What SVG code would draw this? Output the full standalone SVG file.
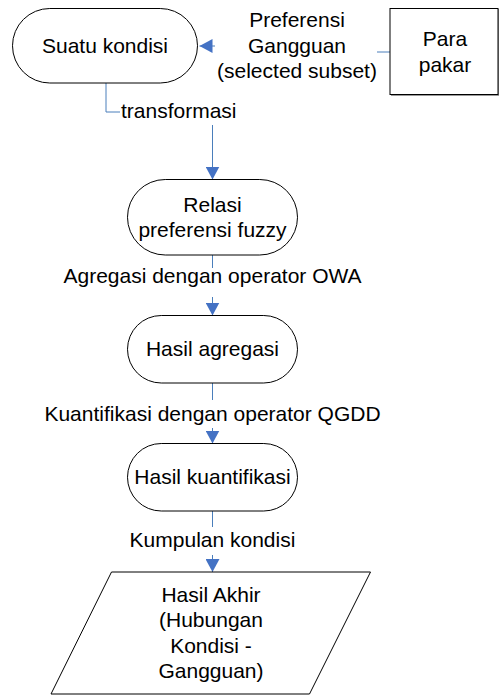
<svg xmlns="http://www.w3.org/2000/svg" width="499" height="696" viewBox="0 0 499 696">
<style>
text{font-family:"Liberation Sans",Arial,sans-serif;font-size:21px;fill:#000;text-anchor:middle}
.shape{fill:#fff;stroke:#000;stroke-width:1}
.conn{fill:none;stroke:#4a7ebb;stroke-width:1}
.lblbg{fill:#fff;stroke:none}
</style>
<defs>
<marker id="ah" markerUnits="userSpaceOnUse" markerWidth="14" markerHeight="14" refX="13" refY="7" orient="auto">
<path d="M0,0 L13,7 L0,14 z" fill="#4472c4"/>
</marker>
</defs>
<rect width="499" height="696" fill="#fff"/>
<g id="connectors">
<path class="conn" d="M390,52 H300 V46 H199.5" marker-end="url(#ah)"/>
<path class="conn" d="M106,83 V112 H212.5 V179.5" marker-end="url(#ah)"/>
<path class="conn" d="M212.5,255 V315.5" marker-end="url(#ah)"/>
<path class="conn" d="M212.5,383 V443.5" marker-end="url(#ah)"/>
<path class="conn" d="M212.5,511 V572" marker-end="url(#ah)"/>
</g>
<g id="labels">
<rect class="lblbg" x="215" y="8" width="162" height="80"/>
<text x="297" y="27.3">Preferensi</text>
<text x="297" y="52.7">Gangguan</text>
<text x="297" y="78.3">(selected subset)</text>
<rect class="lblbg" x="120" y="99" width="118" height="26"/>
<text x="121" y="118" style="text-anchor:start">transformasi</text>
<rect class="lblbg" x="58" y="268" width="310" height="29"/>
<text x="212.5" y="282.5">Agregasi dengan operator OWA</text>
<rect class="lblbg" x="40" y="400" width="345" height="28"/>
<text x="212.5" y="420.7">Kuantifikasi dengan operator QGDD</text>
<rect class="lblbg" x="124" y="527" width="172" height="28"/>
<text x="212.5" y="547">Kumpulan kondisi</text>
</g>
<g id="suatu-kondisi">
<rect class="shape" x="12.5" y="8.5" width="185" height="74.5" rx="37.25" ry="37.25"/>
<text x="105" y="52.7">Suatu kondisi</text>
</g>
<g id="para-pakar">
<rect x="391" y="9" width="108" height="87" fill="#999"/>
<rect class="shape" x="390" y="8.5" width="108" height="86"/>
<text x="445" y="45.7">Para</text>
<text x="445" y="72.3">pakar</text>
</g>
<g id="relasi">
<rect class="shape" x="127.5" y="179.5" width="170" height="75.5" rx="37.75" ry="37.75"/>
<text x="212.5" y="211.7">Relasi</text>
<text x="212.5" y="237.3">preferensi fuzzy</text>
</g>
<g id="hasil-agregasi">
<rect class="shape" x="127.5" y="315.5" width="170" height="67.5" rx="33.75" ry="33.75"/>
<text x="212.5" y="356">Hasil agregasi</text>
</g>
<g id="hasil-kuantifikasi">
<rect class="shape" x="127.5" y="443.5" width="170" height="67.5" rx="33.75" ry="33.75"/>
<text x="212.5" y="483.5">Hasil kuantifikasi</text>
</g>
<g id="hasil-akhir">
<polygon class="shape" points="111.5,572 370.5,572 309.5,694 51,694"/>
<text x="211" y="601.5">Hasil Akhir</text>
<text x="211" y="627.3">(Hubungan</text>
<text x="211" y="653.3">Kondisi -</text>
<text x="211" y="678.3">Gangguan)</text>
</g>
</svg>
